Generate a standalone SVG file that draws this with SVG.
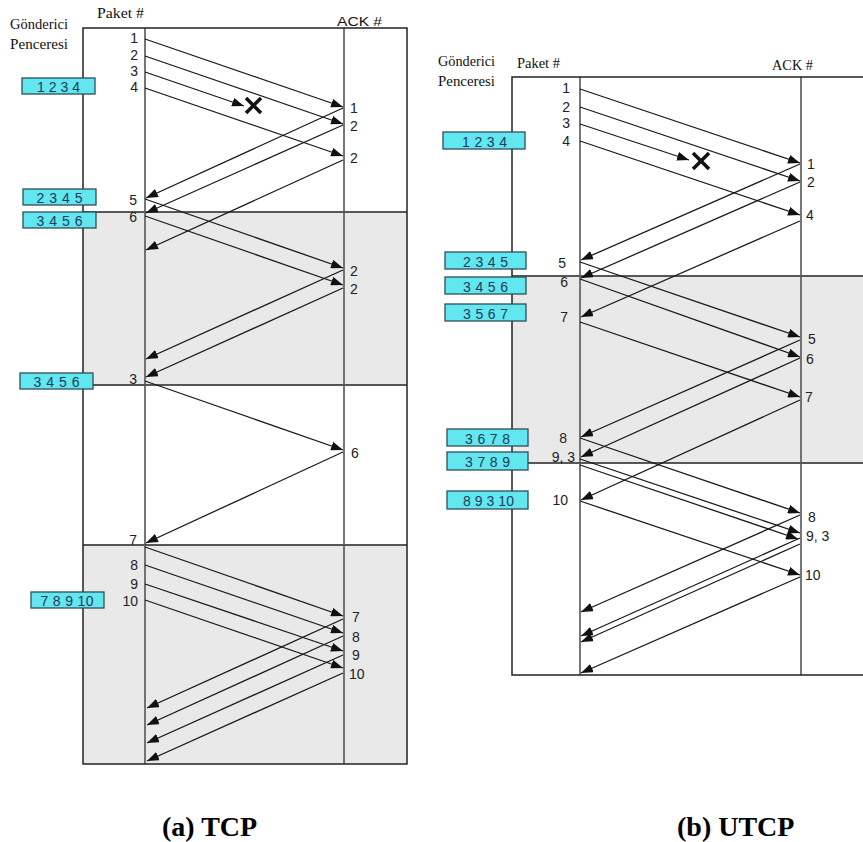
<svg xmlns="http://www.w3.org/2000/svg" width="863" height="842" viewBox="0 0 863 842">
<defs>
<marker id="ah" viewBox="0 0 12 9" refX="12" refY="4.5" markerWidth="12" markerHeight="9" markerUnits="userSpaceOnUse" orient="auto"><path d="M0,0 L12,4.5 L0,9 z" fill="#111"/></marker>
<style>
.frame{fill:none;stroke:#222;stroke-width:1.5}
.shade{fill:#e9e9e9}
.sep{stroke:#222;stroke-width:1.3}
.vl{stroke:#555;stroke-width:1.6}
.ar{stroke:#1a1a1a;stroke-width:1.3;fill:none;marker-end:url(#ah)}
.win rect{fill:#62e6ef;stroke:#2e4e58;stroke-width:1.3}
.win text{font-family:"Liberation Sans",Arial,sans-serif;font-size:14px;fill:#1e3c5a;text-anchor:middle}
.num{font-family:"Liberation Sans",Arial,sans-serif;font-size:14px;fill:#222}
.ne{text-anchor:end}
.hd{font-family:"Liberation Serif","Times New Roman",serif;font-size:14.5px;fill:#111}
.hs{font-family:"Liberation Sans",Arial,sans-serif;font-size:13px;fill:#111}
.cap{font-family:"Liberation Serif","Times New Roman",serif;font-size:28px;font-weight:bold;fill:#000}
.x{stroke:#111;stroke-width:3.6;stroke-linecap:butt}
</style>
</defs>
<rect width="863" height="842" fill="#fff"/>

<!-- ===== (a) TCP ===== -->
<g id="tcp-frame">
<rect class="shade" x="83" y="212" width="324" height="173"/>
<rect class="shade" x="83" y="545" width="324" height="219"/>
<line class="sep" x1="83" y1="212" x2="407" y2="212"/>
<line class="sep" x1="83" y1="385" x2="407" y2="385"/>
<line class="sep" x1="83" y1="545" x2="407" y2="545"/>
<line class="vl" x1="145" y1="28" x2="145" y2="764"/>
<line class="vl" x1="344" y1="28" x2="344" y2="764"/>
<rect class="frame" x="83" y="28" width="324" height="736"/>
</g>
<g id="tcp-headers">
<text class="hd" x="10" y="29" textLength="58" lengthAdjust="spacingAndGlyphs">Gönderici</text>
<text class="hd" x="10" y="49" textLength="58" lengthAdjust="spacingAndGlyphs">Penceresi</text>
<text class="hd" x="97" y="18" textLength="47" lengthAdjust="spacingAndGlyphs">Paket #</text>
<text class="hs" x="337" y="26" textLength="45" lengthAdjust="spacingAndGlyphs">ACK #</text>
</g>
<g id="tcp-windows" class="win">
<g id="tcp-w1"><rect x="22" y="78" width="73" height="16"/><text x="58.5" y="92" textLength="43" lengthAdjust="spacing">1 2 3 4</text></g>
<g id="tcp-w2"><rect x="23" y="189" width="73" height="16"/><text x="59.5" y="203" textLength="46" lengthAdjust="spacing">2 3 4 5</text></g>
<g id="tcp-w3"><rect x="23" y="212" width="73" height="16"/><text x="59.5" y="226" textLength="46" lengthAdjust="spacing">3 4 5 6</text></g>
<g id="tcp-w4"><rect x="20" y="373" width="73" height="16"/><text x="56.5" y="387" textLength="46" lengthAdjust="spacing">3 4 5 6</text></g>
<g id="tcp-w5"><rect x="31" y="592" width="73" height="16"/><text x="67" y="606" textLength="53" lengthAdjust="spacing">7 8 9 10</text></g>
</g>
<g id="tcp-labels">
<text class="num ne" x="138" y="43">1</text>
<text class="num ne" x="138" y="60">2</text>
<text class="num ne" x="138" y="76">3</text>
<text class="num ne" x="138" y="92">4</text>
<text class="num ne" x="137" y="205">5</text>
<text class="num ne" x="137" y="222">6</text>
<text class="num ne" x="137" y="384">3</text>
<text class="num ne" x="137" y="545">7</text>
<text class="num ne" x="138" y="570">8</text>
<text class="num ne" x="138" y="589">9</text>
<text class="num ne" x="138" y="606">10</text>
<text class="num" x="350" y="113">1</text>
<text class="num" x="350" y="131">2</text>
<text class="num" x="350" y="163">2</text>
<text class="num" x="350" y="276">2</text>
<text class="num" x="350" y="294">2</text>
<text class="num" x="351" y="458">6</text>
<text class="num" x="352" y="622">7</text>
<text class="num" x="352" y="642">8</text>
<text class="num" x="352" y="660">9</text>
<text class="num" x="349" y="679">10</text>
</g>
<g id="tcp-connectors">
<line class="ar" x1="145" y1="39" x2="343" y2="107"/>
<line class="ar" x1="145" y1="56" x2="343" y2="124"/>
<line class="ar" x1="145" y1="72" x2="244" y2="106"/>
<line class="ar" x1="145" y1="88" x2="343" y2="156"/>
<line class="ar" x1="343" y1="108" x2="146" y2="198"/>
<line class="ar" x1="343" y1="125" x2="146" y2="213"/>
<line class="ar" x1="343" y1="160" x2="146" y2="250"/>
<line class="ar" x1="145" y1="199" x2="343" y2="268"/>
<line class="ar" x1="145" y1="216" x2="343" y2="285"/>
<line class="ar" x1="343" y1="270" x2="146" y2="359"/>
<line class="ar" x1="343" y1="288" x2="146" y2="377"/>
<line class="ar" x1="145" y1="381" x2="343" y2="450"/>
<line class="ar" x1="343" y1="452" x2="146" y2="543"/>
<line class="ar" x1="145" y1="547" x2="343" y2="616"/>
<line class="ar" x1="145" y1="565" x2="343" y2="633"/>
<line class="ar" x1="145" y1="584" x2="343" y2="651"/>
<line class="ar" x1="145" y1="600" x2="343" y2="668"/>
<line class="ar" x1="343" y1="619" x2="147" y2="708"/>
<line class="ar" x1="343" y1="636" x2="147" y2="725"/>
<line class="ar" x1="343" y1="655" x2="147" y2="743"/>
<line class="ar" x1="343" y1="673" x2="147" y2="761"/>
</g>
<g id="tcp-loss">
<line class="x" x1="246" y1="98" x2="261" y2="113"/>
<line class="x" x1="261" y1="98" x2="246" y2="113"/>
</g>

<!-- ===== (b) UTCP ===== -->
<g id="utcp-frame">
<rect class="shade" x="512" y="276" width="358" height="187"/>
<line class="sep" x1="512" y1="276" x2="870" y2="276"/>
<line class="sep" x1="512" y1="463" x2="870" y2="463"/>
<line class="vl" x1="580" y1="77" x2="580" y2="675"/>
<line class="vl" x1="801" y1="77" x2="801" y2="675"/>
<rect class="frame" x="512" y="77" width="360" height="598"/>
</g>
<g id="utcp-headers">
<text class="hd" x="438" y="66" font-size="13.5" textLength="57" lengthAdjust="spacingAndGlyphs">Gönderici</text>
<text class="hd" x="438" y="86" font-size="13.5" textLength="57" lengthAdjust="spacingAndGlyphs">Penceresi</text>
<text class="hd" x="517" y="68" font-size="13.5" textLength="43" lengthAdjust="spacingAndGlyphs">Paket #</text>
<text class="hd" x="772" y="70" font-size="13.5" textLength="41" lengthAdjust="spacingAndGlyphs">ACK #</text>
</g>
<g id="utcp-windows" class="win">
<g id="utcp-w1"><rect x="443" y="132" width="82" height="17"/><text x="484.5" y="146.5" textLength="45" lengthAdjust="spacing">1 2 3 4</text></g>
<g id="utcp-w2"><rect x="445" y="252" width="81" height="17"/><text x="485.5" y="266.5" textLength="45" lengthAdjust="spacing">2 3 4 5</text></g>
<g id="utcp-w3"><rect x="445" y="277" width="81" height="17"/><text x="485.5" y="291.5" textLength="45" lengthAdjust="spacing">3 4 5 6</text></g>
<g id="utcp-w4"><rect x="445" y="304" width="81" height="17"/><text x="485.5" y="318.5" textLength="45" lengthAdjust="spacing">3 5 6 7</text></g>
<g id="utcp-w5"><rect x="447" y="429" width="81" height="17"/><text x="487.5" y="443.5" textLength="45" lengthAdjust="spacing">3 6 7 8</text></g>
<g id="utcp-w6"><rect x="447" y="452" width="81" height="18"/><text x="487.5" y="467" textLength="45" lengthAdjust="spacing">3 7 8 9</text></g>
<g id="utcp-w7"><rect x="447" y="491" width="81" height="18"/><text x="488.5" y="506" textLength="51" lengthAdjust="spacing">8 9 3 10</text></g>
</g>
<g id="utcp-labels">
<text class="num ne" x="570" y="93">1</text>
<text class="num ne" x="570" y="112">2</text>
<text class="num ne" x="570" y="128">3</text>
<text class="num ne" x="570" y="146">4</text>
<text class="num ne" x="566" y="268">5</text>
<text class="num ne" x="568" y="287">6</text>
<text class="num ne" x="568" y="322">7</text>
<text class="num ne" x="567" y="443">8</text>
<text class="num ne" x="575" y="462">9, 3</text>
<text class="num ne" x="568" y="505">10</text>
<text class="num" x="807" y="169">1</text>
<text class="num" x="807" y="187">2</text>
<text class="num" x="806" y="220">4</text>
<text class="num" x="808" y="344">5</text>
<text class="num" x="806" y="364">6</text>
<text class="num" x="805" y="402">7</text>
<text class="num" x="808" y="522">8</text>
<text class="num" x="806" y="541">9, 3</text>
<text class="num" x="805" y="580">10</text>
</g>
<g id="utcp-connectors">
<line class="ar" x1="580" y1="89" x2="800" y2="163"/>
<line class="ar" x1="580" y1="107" x2="800" y2="181"/>
<line class="ar" x1="580" y1="124" x2="689" y2="160"/>
<line class="ar" x1="580" y1="141" x2="800" y2="215"/>
<line class="ar" x1="800" y1="164" x2="581" y2="260"/>
<line class="ar" x1="800" y1="182" x2="581" y2="278"/>
<line class="ar" x1="800" y1="221" x2="581" y2="317"/>
<line class="ar" x1="580" y1="262" x2="800" y2="337"/>
<line class="ar" x1="580" y1="279" x2="800" y2="357"/>
<line class="ar" x1="580" y1="322" x2="800" y2="397"/>
<line class="ar" x1="800" y1="340" x2="581" y2="437"/>
<line class="ar" x1="800" y1="358" x2="581" y2="457"/>
<line class="ar" x1="800" y1="400" x2="581" y2="500"/>
<line class="ar" x1="580" y1="438" x2="800" y2="513"/>
<line class="ar" x1="580" y1="459" x2="800" y2="533"/>
<line class="ar" x1="580" y1="465" x2="798" y2="539"/>
<line class="ar" x1="580" y1="501" x2="800" y2="575"/>
<line class="ar" x1="800" y1="515" x2="581" y2="612"/>
<line class="ar" x1="800" y1="538" x2="581" y2="636"/>
<line class="ar" x1="800" y1="544" x2="581" y2="642"/>
<line class="ar" x1="800" y1="577" x2="581" y2="673"/>
</g>
<g id="utcp-loss">
<line class="x" x1="693" y1="153" x2="709" y2="169"/>
<line class="x" x1="709" y1="153" x2="693" y2="169"/>
</g>

<g id="captions">
<text class="cap" x="162" y="836">(a) TCP</text>
<text class="cap" x="677" y="836">(b) UTCP</text>
</g>
</svg>
